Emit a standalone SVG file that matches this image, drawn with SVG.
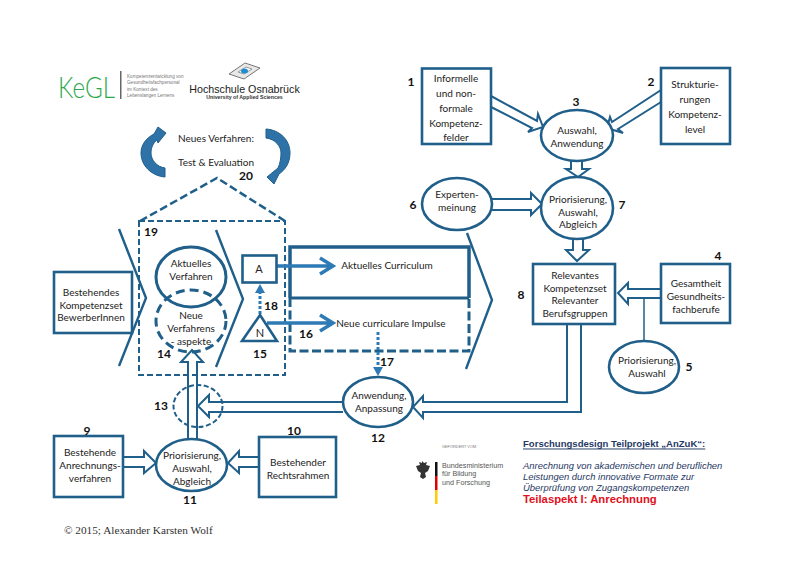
<svg xmlns="http://www.w3.org/2000/svg" width="800" height="566" viewBox="0 0 800 566">
<style>
text{font-family:"Lato","Open Sans","Liberation Sans",sans-serif;font-size:10px;fill:#222;text-anchor:middle;dominant-baseline:central}
.n{font-weight:700;font-size:12px;fill:#111}
.b{fill:#fff;stroke:#1f5f8a;stroke-width:2.6}
.t{fill:none;stroke:#1f5f8a;stroke-width:2.4}
.d{fill:none;stroke:#1f5f8a;stroke-width:2;stroke-dasharray:6 3}
.a{fill:#fff;stroke:#1f5f8a;stroke-width:2;stroke-linejoin:miter}
.o{fill:none;stroke:#2e7ab5;stroke-width:3.5}
.l{text-anchor:start}
.r{font-family:"Liberation Sans",Arial,sans-serif}
.s{font-size:4.650px;fill:#777}
.m{font-size:7.200px;fill:#555}
.i{font-size:9.450px;font-style:italic;fill:#1f3864}
</style>
<rect width="800" height="566" fill="#fff"/>

<g id="logos">
<text class="l" x="58" y="86" style="font-size:30px;font-weight:300;fill:#2aa84a" textLength="57" lengthAdjust="spacingAndGlyphs">KeGL</text>
<rect x="120" y="71" width="1.500" height="28" fill="#666"/>
<text class="l r s" x="127" y="76">Kompetenzentwicklung von</text>
<text class="l r s" x="127" y="82.500">Gesundheitsfachpersonal</text>
<text class="l r s" x="127" y="89">im Kontext des</text>
<text class="l r s" x="127" y="95">Lebenslangen Lernens</text>
<path d="M229 74L245 63L260 68L244 79Z" fill="#e8e8e8" stroke="#777"/>
<path d="M238 72L246 67L252 69L244 74Z" fill="#fff" stroke="#999"/>
<ellipse cx="244.500" cy="71" rx="3.500" ry="2.500" fill="#1d8fd0"/>
<text class="r" x="244.500" y="88.500" style="font-size:10.700px;fill:#222">Hochschule Osnabrück</text>
<text class="r" x="244.500" y="97" style="font-size:5.250px;font-weight:700;fill:#333">University of Applied Sciences</text>
<text class="r l" x="442" y="446" style="font-size:3.900px;fill:#777">GEFÖRDERT VOM</text>
<path d="M422 461l2 2l3-1l-1 3l4 1l-2 5l-3 2l1 4l-3 2l-3-2l1-4l-3-2l-2-5l4-1l-1-3l3 1z" fill="#333"/>
<rect x="435" y="462" width="2.500" height="14" fill="#111"/>
<rect x="435" y="476" width="2.500" height="14" fill="#d00"/>
<rect x="435" y="490" width="2.500" height="14" fill="#fc0"/>
<text class="r l m" x="442" y="465">Bundesministerium</text>
<text class="r l m" x="442" y="473.500">für Bildung</text>
<text class="r l m" x="442" y="482">und Forschung</text>
</g>

<g id="connectors">
<path d="M165 177C152 176 141 166 141 153C141 145 146 138 154 134L158 127L166 133L158 143L157 140C153 143 151 148 151 153C151 160 157 167 165 168Z" fill="#2e72a8" stroke="#1f5f8a"/>
<path d="M266 129C280 130 290 140 290 153C290 163 285 170 279 174L274 184L267 177L278 168C280 164 281 158 281 153C281 146 275 139 266 138Z" fill="#2e72a8" stroke="#1f5f8a"/>
<path class="d" style="stroke-width:2.500;stroke-dasharray:8 3.500" d="M140 221L217 178L285 221"/>
<rect class="d" x="139" y="221" width="146" height="154"/>
<path class="t" d="M119 229L146 298L119 366"/>
<path class="t" d="M216 230L243 299L216 367"/>
<path class="t" d="M467 233L492 300L466 369"/>
<path class="t" style="stroke-width:3.500" d="M290 298V247H469V298"/>
<path class="t" style="stroke-dasharray:9 3.500;stroke-width:3" d="M290 298V351H469V298"/>
<path class="t" style="stroke-width:3" d="M290 298H469"/>
<path class="o" d="M277 266H333M320 258L333 266L320 274"/>
<path class="o" d="M267 323H333M320 315L333 323L320 331"/>
<path class="o" style="stroke-width:3" stroke-dasharray="3 2" d="M260 314V291"/><path d="M260 284L265 293H255Z" fill="#2e7ab5"/>
<path class="o" style="stroke-width:3" stroke-dasharray="3 2" d="M378 332V368"/><path d="M378 376L373 367H383Z" fill="#2e7ab5"/>
<path class="a" d="M491 96L537 121L538 114L543 127L528 132L532 128L491 107"/>
<path class="a" d="M661 90L612 122L610 117L607 128L623 133L618 129L661 102"/>
<path class="a" d="M571 161V169H566L578 177L589 169H582V161"/>
<path class="a" d="M492 199H531V193L542 204L531 215V210H492"/>
<path class="a" d="M573 239V250H566L577 261L589 250H583V239"/>
<path class="a" d="M661 289H628V283L618 293L628 304V298H661"/>
<path fill="none" stroke="#1f5f8a" stroke-width="1.500" d="M644 298V341"/>
<path class="a" style="fill:none" d="M567 324V402H423V396L413 407L423 418V412H581V324"/>
<path class="a" style="fill:none" d="M343 402H209V395L198 406L209 417V412H343"/>
<ellipse class="d" style="stroke-dasharray:5 2.500" cx="198" cy="406" rx="24.500" ry="21"/>
<path class="a" style="fill:none" d="M188 439V362H181L192 350L203 362H197V439"/>
<path class="a" d="M123 457H144V451L156 463L144 473V467H123"/>
<path class="a" d="M259 457H239V451L228 463L239 473V467H259"/>
</g>

<g id="n20"><text x="216" y="137.700">Neues Verfahren:</text><text x="216" y="161.700">Test &amp; Evaluation</text><text class="n" x="246" y="175">20</text></g>
<text class="n" id="n19" x="151" y="231">19</text>

<g id="bestehendes"><rect class="b" x="54" y="272" width="78" height="61"/><text x="91" y="292">Bestehendes</text><text x="91" y="304.500">Kompetenzset</text><text x="91" y="317">BewerberInnen</text></g>
<g id="aktuell"><ellipse class="t" style="stroke-width:3" cx="191" cy="277" rx="35" ry="30"/><text x="191" y="263">Aktuelles</text><text x="191" y="276">Verfahren</text></g>
<g id="n14"><ellipse class="d" style="stroke-width:3;stroke-dasharray:9 5" cx="191" cy="321" rx="35" ry="31"/><text x="191" y="315">Neue</text><text x="191" y="328">Verfahrens</text><text x="191" y="341">- aspekte</text><text class="n" x="164" y="353">14</text></g>
<g id="A"><rect class="b" x="242.500" y="255.500" width="34" height="27"/><text x="259" y="268" style="font-size:11px">A</text></g>
<g id="n15"><path class="b" d="M260 315L277 341H242Z"/><text x="260" y="332" style="font-size:11px">N</text><text class="n" x="260" y="353">15</text></g>
<text class="n" id="n18" x="271" y="305">18</text>
<text class="n" id="n16" x="306" y="333">16</text>
<text id="curr" x="387" y="265">Aktuelles Curriculum</text>
<text id="impulse" x="391" y="323">Neue curriculare Impulse</text>
<text class="n" id="n17" x="387" y="361">17</text>

<g id="n1"><rect class="b" x="422" y="68.500" width="69" height="75.500"/><text x="456" y="78">Informelle</text><text x="456" y="93">und non-</text><text x="456" y="108">formale</text><text x="456" y="123">Kompetenz-</text><text x="456" y="137">felder</text><text class="n" x="411" y="81">1</text></g>
<g id="n2"><rect class="b" x="661" y="68" width="69" height="76"/><text x="695" y="84">Strukturie-</text><text x="695" y="99">rungen</text><text x="695" y="114">Kompetenz-</text><text x="695" y="129">level</text><text class="n" x="651" y="81">2</text></g>
<g id="n3"><ellipse class="b" cx="577" cy="135.500" rx="36" ry="25.500"/><text x="577" y="130">Auswahl,</text><text x="577" y="143">Anwendung</text><text class="n" x="576" y="101">3</text></g>
<g id="n7"><ellipse class="b" cx="577" cy="208" rx="36" ry="31"/><text x="578" y="199">Priorisierung,</text><text x="578" y="212">Auswahl,</text><text x="578" y="224">Abgleich</text><text class="n" x="622" y="204">7</text></g>
<g id="n6"><ellipse class="b" cx="457" cy="204" rx="35" ry="26"/><text x="457" y="194">Experten-</text><text x="457" y="207">meinung</text><text class="n" x="413" y="204">6</text></g>
<g id="n8"><rect class="b" x="533" y="264" width="82" height="60"/><text x="575" y="275">Relevantes</text><text x="575" y="287.500">Kompetenzset</text><text x="575" y="300">Relevanter</text><text x="575" y="313">Berufsgruppen</text><text class="n" x="521" y="294">8</text></g>
<g id="n4"><rect class="b" x="661" y="264" width="69" height="59"/><text x="696" y="283">Gesamtheit</text><text x="696" y="296">Gesundheits-</text><text x="696" y="309">fachberufe</text><text class="n" x="718" y="255">4</text></g>
<g id="n5"><ellipse class="b" cx="644" cy="367" rx="35" ry="26"/><text x="647" y="360">Priorisierung,</text><text x="647" y="373">Auswahl</text><text class="n" x="689" y="366">5</text></g>
<g id="n12"><ellipse class="b" cx="378" cy="402" rx="35" ry="25"/><text x="379" y="395">Anwendung,</text><text x="379" y="408">Anpassung</text><text class="n" x="378" y="437">12</text></g>
<text class="n" id="n13" x="161" y="405">13</text>
<g id="n11"><ellipse class="b" cx="191.500" cy="465" rx="35.500" ry="26"/><text x="192" y="455">Priorisierung,</text><text x="192" y="468">Auswahl,</text><text x="192" y="481">Abgleich</text><text class="n" x="190" y="499">11</text></g>
<g id="n9"><rect class="b" x="54" y="436" width="69" height="61"/><text x="90" y="452">Bestehende</text><text x="90" y="465">Anrechnungs-</text><text x="90" y="478">verfahren</text><text class="n" x="87" y="430">9</text></g>
<g id="n10"><rect class="b" x="259" y="437" width="77" height="60"/><text x="298" y="462">Bestehender</text><text x="298" y="475">Rechtsrahmen</text><text class="n" x="294" y="430">10</text></g>

<g id="title">
<text class="l r" x="523" y="443" style="font-size:9.550px;font-weight:700;fill:#1f3864;text-decoration:underline">Forschungsdesign Teilprojekt „AnZuK“:</text>
<text class="l r i" x="523" y="465">Anrechnung von akademischen und beruflichen</text>
<text class="l r i" x="523" y="476">Leistungen durch innovative Formate zur</text>
<text class="l r i" x="523" y="487">Überprüfung von Zugangskompetenzen</text>
<text class="l r" x="523" y="499" style="font-size:11.300px;font-weight:700;fill:#e0101c">Teilaspekt I: Anrechnung</text>
</g>
<text id="copyright" class="l" x="64" y="530" style="font-family:'Liberation Serif',serif;font-size:11.250px;fill:#333">© 2015; Alexander Karsten Wolf</text>
</svg>
